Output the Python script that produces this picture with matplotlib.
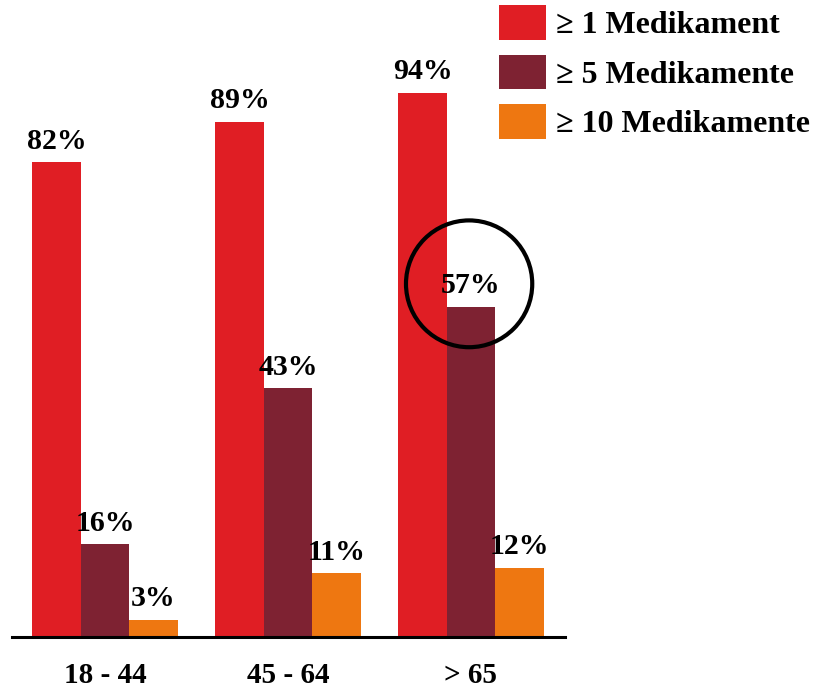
import numpy as np
import matplotlib.pyplot as plt
from matplotlib.patches import Ellipse

plt.rcParams['font.family'] = ['Liberation Serif', 'DejaVu Serif']
plt.rcParams['font.weight'] = 'bold'

groups = ['18 - 44', '45 - 64', '> 65']
labels = ['\u2265 1 Medikament', '\u2265 5 Medikamente', '\u2265 10 Medikamente']
one_plus = [82, 89, 94]
five_plus = [16, 43, 57]
ten_plus = [3, 11, 12]
colors = ['#E01E24', '#7E2232', '#EE7711']

series = [one_plus, five_plus, ten_plus]
x = np.arange(len(groups))
w = 0.265

fig = plt.figure(figsize=(8.23, 6.88), dpi=100)
ax = fig.add_axes([12/823, 51/688, (565-12)/823, (637-58)/688])

handles = []
for i, (vals, c, lab) in enumerate(zip(series, colors, labels)):
    pos = x + (i - 1) * w
    b = ax.bar(pos, vals, w, color=c, label=lab)
    handles.append(b)
    for p, v in zip(pos, vals):
        ax.text(p, v + 1.3, f'{v}%', ha='center', va='bottom',
                fontsize=21.5, fontweight='bold')

# highlight the 57% value
ax.add_patch(Ellipse((x[2] - 0.01, five_plus[2] + 4), 0.69, 21.9,
                     fill=False, edgecolor='black', lw=3, clip_on=False))

ax.set_xlim(-0.508, 2.514)
ax.set_ylim(0, 100)
ax.set_xticks(x)
ax.set_xticklabels(groups, fontsize=21, fontweight='bold')
ax.tick_params(axis='x', length=0, pad=18)
ax.set_yticks([])
for s in ['top', 'left', 'right']:
    ax.spines[s].set_visible(False)
ax.spines['bottom'].set_linewidth(2.2)

fig.legend(handles=handles, loc='upper left',
           bbox_to_anchor=(486/823, 1 + 8/688), frameon=False,
           prop={'size': 23, 'weight': 'bold'},
           handlelength=1.47, handleheight=1.3, labelspacing=0.46,
           handletextpad=0.32, borderaxespad=0.0)

fig.savefig('out.png', dpi=100)
